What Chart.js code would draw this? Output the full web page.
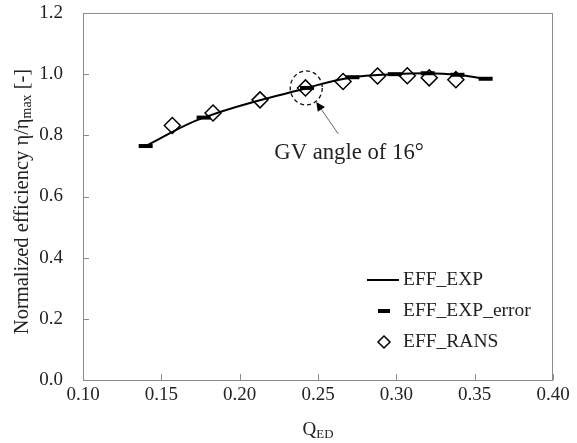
<!DOCTYPE html>
<html>
<head>
<meta charset="utf-8">
<script src="https://cdn.jsdelivr.net/npm/chart.js@4"></script>
<style>
  html, body { margin: 0; padding: 0; background: #fff; }
  #wrap { width: 577px; height: 443px; }
</style>
</head>
<body>
<div id="wrap"><canvas id="efficiency-chart"></canvas></div>
<script>
// values
var expQ = [0.140, 0.177, 0.243, 0.272, 0.299, 0.320, 0.339, 0.357];
var expEff = [0.765, 0.858, 0.955, 0.990, 1.000, 1.003, 0.998, 0.985];
var ransQ = [0.157, 0.183, 0.213, 0.242, 0.266, 0.288, 0.307, 0.321, 0.338];
var ransEff = [0.832, 0.873, 0.916, 0.955, 0.976, 0.994, 0.995, 0.988, 0.982];
var xTicks = ['0.10', '0.15', '0.20', '0.25', '0.30', '0.35', '0.40'];
var yTicks = ['0.0', '0.2', '0.4', '0.6', '0.8', '1.0', '1.2'];
var seriesNames = ['EFF_EXP', 'EFF_EXP_error', 'EFF_RANS'];
var gvPoint = { q: 0.2425, eff: 0.955, label: 'GV angle of 16°' };

var FONT = '"Liberation Serif", "Times New Roman", serif';
var TXT = '#222';
var AXIS = '#8c8c8c';

function pairs(xs, ys) {
  return xs.map(function (x, i) { return { x: x, y: ys[i] }; });
}

// draws text parts, some of them as subscripts, starting at x
function drawParts(ctx, parts, x, y, size) {
  parts.forEach(function (p) {
    var s = p.sub ? size * 0.68 : size;
    ctx.font = s + 'px ' + FONT;
    ctx.fillText(p.t, x, y + (p.sub ? size * 0.22 : 0));
    x += ctx.measureText(p.t).width;
  });
}
function partsWidth(ctx, parts, size) {
  var w = 0;
  parts.forEach(function (p) {
    ctx.font = (p.sub ? size * 0.68 : size) + 'px ' + FONT;
    w += ctx.measureText(p.t).width;
  });
  return w;
}

var extras = {
  id: 'extras',
  afterDraw: function (chart) {
    var ctx = chart.ctx, a = chart.chartArea;
    var xs = chart.scales.x, ys = chart.scales.y;
    ctx.save();

    // frame and inward ticks
    ctx.strokeStyle = AXIS;
    ctx.lineWidth = 1;
    ctx.strokeRect(a.left + 0.5, a.top + 0.5, a.right - a.left - 1, a.bottom - a.top);
    ctx.beginPath();
    xTicks.forEach(function (t) {
      var px = Math.round(xs.getPixelForValue(parseFloat(t))) + 0.5;
      ctx.moveTo(px, a.bottom); ctx.lineTo(px, a.bottom - 6);
    });
    yTicks.forEach(function (t) {
      var py = Math.round(ys.getPixelForValue(parseFloat(t))) + 0.5;
      ctx.moveTo(a.left, py); ctx.lineTo(a.left + 6, py);
    });
    ctx.stroke();

    // axis titles
    ctx.fillStyle = TXT;
    ctx.textBaseline = 'middle';
    ctx.textAlign = 'left';
    var xt = [{ t: 'Q' }, { t: 'ED', sub: true }];
    var wx = partsWidth(ctx, xt, 19);
    drawParts(ctx, xt, 318 - wx / 2, 430, 19);

    var yt = [{ t: 'Normalized efficiency \u03b7/\u03b7' }, { t: 'max', sub: true }, { t: ' [-]' }];
    var wy = partsWidth(ctx, yt, 20.5);
    ctx.save();
    ctx.translate(23, (a.top + a.bottom) / 2 + 5);
    ctx.rotate(-Math.PI / 2);
    drawParts(ctx, yt, -wy / 2, 0, 20.5);
    ctx.restore();

    // legend inside the plot
    var lx = 367, ly = [280, 311, 342];
    ctx.strokeStyle = '#000';
    ctx.lineWidth = 2;
    ctx.beginPath(); ctx.moveTo(lx, ly[0]); ctx.lineTo(lx + 32, ly[0]); ctx.stroke();
    ctx.fillStyle = '#000';
    ctx.fillRect(lx + 11, ly[1] - 2, 12, 4);
    ctx.lineWidth = 1.5;
    ctx.beginPath();
    ctx.moveTo(lx + 17, ly[2] - 6); ctx.lineTo(lx + 23, ly[2]);
    ctx.lineTo(lx + 17, ly[2] + 6); ctx.lineTo(lx + 11, ly[2]);
    ctx.closePath(); ctx.stroke();
    ctx.fillStyle = TXT;
    ctx.font = '19.5px ' + FONT;
    seriesNames.forEach(function (n, i) { ctx.fillText(n, lx + 36, ly[i]); });

    // annotation: dashed circle, arrow and text
    var cx = xs.getPixelForValue(gvPoint.q), cy = ys.getPixelForValue(gvPoint.eff);
    ctx.strokeStyle = '#111';
    ctx.lineWidth = 1.3;
    ctx.setLineDash([4, 3]);
    ctx.beginPath(); ctx.ellipse(cx, cy, 16, 17, 0, 0, Math.PI * 2); ctx.stroke();
    ctx.setLineDash([]);
    var tipX = cx + 10, tipY = cy + 14, tailX = cx + 32, tailY = cy + 46;
    var ang = Math.atan2(tipY - tailY, tipX - tailX);
    ctx.strokeStyle = '#666';
    ctx.lineWidth = 1;
    ctx.beginPath(); ctx.moveTo(tailX, tailY);
    ctx.lineTo(tipX - Math.cos(ang) * 6, tipY - Math.sin(ang) * 6); ctx.stroke();
    ctx.fillStyle = '#000';
    ctx.beginPath();
    ctx.moveTo(tipX, tipY);
    ctx.lineTo(tipX - Math.cos(ang - 0.45) * 10, tipY - Math.sin(ang - 0.45) * 10);
    ctx.lineTo(tipX - Math.cos(ang + 0.45) * 10, tipY - Math.sin(ang + 0.45) * 10);
    ctx.closePath(); ctx.fill();
    ctx.fillStyle = TXT;
    ctx.font = '22.7px ' + FONT;
    ctx.fillText(gvPoint.label, cx - 32, cy + 65);

    ctx.restore();
  }
};

var ctx = document.getElementById('efficiency-chart').getContext('2d');
var chart = new Chart(ctx, {
  type: 'scatter',
  data: {
    datasets: [{
      label: seriesNames[0],
      data: pairs(expQ, expEff),
      showLine: true,
      borderColor: '#000',
      borderWidth: 2,
      tension: 0.4,
      pointRadius: 0,
      order: 3
    }, {
      label: seriesNames[1],
      data: pairs(expQ, expEff),
      showLine: false,
      pointStyle: 'line',
      pointRadius: 7,
      pointBorderWidth: 4,
      borderColor: '#000',
      backgroundColor: '#000',
      order: 2
    }, {
      label: seriesNames[2],
      data: pairs(ransQ, ransEff),
      showLine: false,
      pointStyle: 'rectRot',
      pointRadius: 8,
      pointBorderWidth: 1.5,
      borderColor: '#000',
      backgroundColor: 'rgba(0,0,0,0)',
      order: 1
    }]
  },
  options: {
    responsive: true,
    maintainAspectRatio: false,
    animation: false,
    layout: { padding: { top: 13, right: 24, left: 0, bottom: 0 } },
    plugins: { legend: { display: false }, tooltip: { enabled: false } },
    scales: {
      x: {
        type: 'linear', min: 0.1, max: 0.4,
        afterBuildTicks: function (s) { s.ticks = xTicks.map(function (t) { return { value: parseFloat(t) }; }); },
        ticks: {
          padding: 4, color: TXT, maxRotation: 0,
          font: { family: FONT, size: 19 },
          callback: function (v, i) { return xTicks[i]; }
        },
        grid: { display: false, drawTicks: false },
        border: { display: false },
        afterFit: function (s) { s.height = 63; s.paddingLeft = 0; s.paddingRight = 0; }
      },
      y: {
        type: 'linear', min: 0, max: 1.2,
        afterBuildTicks: function (s) { s.ticks = yTicks.map(function (t) { return { value: parseFloat(t) }; }); },
        ticks: {
          padding: 20, color: TXT,
          font: { family: FONT, size: 19 },
          callback: function (v, i) { return yTicks[i]; }
        },
        grid: { display: false, drawTicks: false },
        border: { display: false },
        afterFit: function (s) { s.width = 83; s.paddingTop = 0; s.paddingBottom = 0; }
      }
    }
  },
  plugins: [extras]
});
</script>
</body>
</html>
